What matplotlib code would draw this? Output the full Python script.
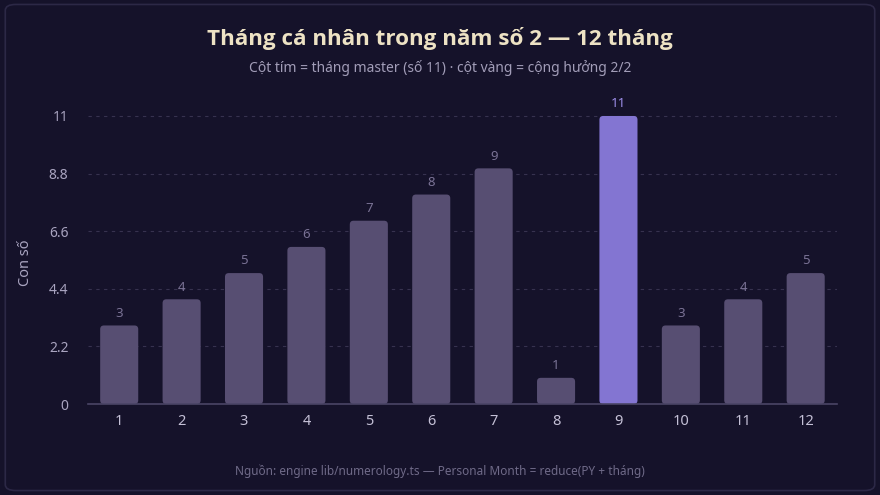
import matplotlib.pyplot as plt
from matplotlib.patches import FancyBboxPatch
import numpy as np

plt.rcParams['font.family'] = ['Noto Sans', 'DejaVu Sans']

months = ['1', '2', '3', '4', '5', '6', '7', '8', '9', '10', '11', '12']
values = [3, 4, 5, 6, 7, 8, 9, 1, 11, 3, 4, 5]
master_month = '9'
yticks = [0, 2.2, 4.4, 6.6, 8.8, 11]
ytick_labels = ['0', '2.2', '4.4', '6.6', '8.8', '11']

bg = '#15122a'
bar_col = '#574e72'
master_col = '#8375d2'

fig = plt.figure(figsize=(8.8, 4.95), dpi=100)
fig.patch.set_facecolor(bg)

# card border
card = FancyBboxPatch((0.006, 0.009), 0.988, 0.982, boxstyle='round,pad=0,rounding_size=0.012',
                      transform=fig.transFigure, facecolor='none', edgecolor='#2c2846',
                      linewidth=1.2, zorder=-1)
fig.patches.append(card)

ax = fig.add_axes([0.1, 0.1838, 0.851, 0.611])
ax.set_facecolor('none')

x = np.arange(len(months))
colors = [master_col if m == master_month else bar_col for m in months]
bars = ax.bar(x, values, width=0.61, color=colors)

# swap plain bars for rounded ones
for b, c in zip(bars, colors):
    bx, by = b.get_x(), b.get_y()
    w, h = b.get_width(), b.get_height()
    b.remove()
    ax.add_patch(FancyBboxPatch((bx, by), w, h, boxstyle='round,pad=0,rounding_size=0.06',
                                mutation_aspect=2.4, facecolor=c, edgecolor='none', zorder=3))

for xi, v, m in zip(x, values, months):
    col = '#9c8de8' if m == master_month else '#7a7295'
    ax.text(xi, v + 0.22, str(v), ha='center', va='bottom', fontsize=9.5, color=col, zorder=4)

ax.set_xlim(-0.5, len(months) - 0.5)
ax.set_ylim(0, 11.55)
ax.set_xticks(x)
ax.set_xticklabels(months)
ax.set_yticks(yticks)
ax.set_yticklabels(ytick_labels)
ax.tick_params(axis='x', length=0, pad=7, labelsize=10.5, colors='#c4c0d6')
ax.tick_params(axis='y', length=0, pad=14, labelsize=10, colors='#a9a4c0')
ax.grid(axis='y', color='#37324f', linestyle=(0, (3, 4)), linewidth=0.8, zorder=0)
ax.set_axisbelow(True)
for s in ['top', 'right', 'left']:
    ax.spines[s].set_visible(False)
ax.spines['bottom'].set_color('#4a4566')
ax.spines['bottom'].set_linewidth(1.2)
ax.spines['bottom'].set_zorder(5)

fig.text(0.029, 0.47, 'Con số', rotation=90, ha='center', va='center', fontsize=10.5, color='#a9a4c0')

fig.text(0.5, 0.923, 'Tháng cá nhân trong năm số 2 — 12 tháng', ha='center', va='center',
         fontsize=16.1, fontweight='bold', color='#ede2c4', family=['Open Sans', 'DejaVu Sans'])
fig.text(0.5, 0.862, 'Cột tím = tháng master (số 11) · cột vàng = cộng hưởng 2/2', ha='center', va='center',
         fontsize=10, color='#a29db8')
fig.text(0.5, 0.048, 'Nguồn: engine lib/numerology.ts — Personal Month = reduce(PY + tháng)', ha='center',
         va='center', fontsize=8.5, color='#6f6a88')

fig.savefig('out.png', dpi=100, facecolor=bg)
